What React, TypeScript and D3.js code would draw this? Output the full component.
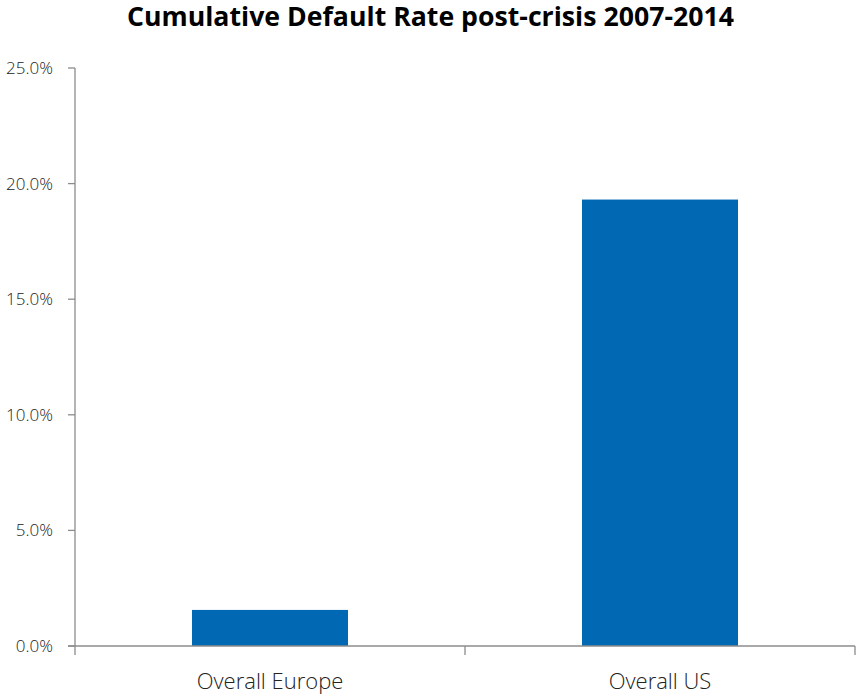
import React from "react";
import * as d3 from "d3";

const categories: string[] = ["Overall Europe", "Overall US"];
const values: number[] = [0.0156, 0.1931];
const yTicks: number[] = [0, 0.05, 0.1, 0.15, 0.2, 0.25];
const title = "Cumulative Default Rate post-crisis 2007-2014";

export default function App() {
  const W = 856, H = 696;
  const left = 75, right = 855, top = 68, bottom = 646;
  const x = d3.scaleBand<string>().domain(categories).range([left, right]).paddingInner(0.6).paddingOuter(0.3);
  const y = d3.scaleLinear().domain([0, 0.25]).range([bottom, top]);
  const fmt = d3.format(".1%");
  const axisColor = "#8c8c8c";
  const font = "'Open Sans', sans-serif";
  const catEdges = d3.range(categories.length + 1).map((i) => left + ((right - left) * i) / categories.length);
  return (
    <svg width={W} height={H} style={{ position: "absolute", left: 0, top: 0, background: "#fff" }}>
      <text x={430.5} y={26} textAnchor="middle" fontFamily={font} fontWeight={700} fontSize={27}
        textLength={607} lengthAdjust="spacingAndGlyphs" fill="#000">{title}</text>
      {categories.map((c, i) => (
        <rect key={c} x={x(c)} width={x.bandwidth()} y={y(values[i])} height={bottom - y(values[i])} fill="#0168B3" />
      ))}
      <line x1={left} x2={left} y1={top} y2={bottom} stroke={axisColor} strokeWidth={1.3} />
      {yTicks.map((t) => (
        <g key={t}>
          <line x1={left - 7} x2={left} y1={y(t)} y2={y(t)} stroke={axisColor} strokeWidth={1.3} />
          <text x={53} y={y(t)} dy="0.35em" textAnchor="end" fontFamily={font} fontWeight={300} fontSize={17} fill="#222">{fmt(t)}</text>
        </g>
      ))}
      <line x1={left - 7} x2={right} y1={bottom} y2={bottom} stroke={axisColor} strokeWidth={1.5} />
      {catEdges.map((e, i) => (
        <line key={i} x1={e} x2={e} y1={bottom} y2={bottom + 9} stroke={axisColor} strokeWidth={1.3} />
      ))}
      {categories.map((c) => (
        <text key={c} x={(x(c) as number) + x.bandwidth() / 2} y={689} textAnchor="middle" fontFamily={font} fontWeight={300} fontSize={22} fill="#222">{c}</text>
      ))}
    </svg>
  );
}
